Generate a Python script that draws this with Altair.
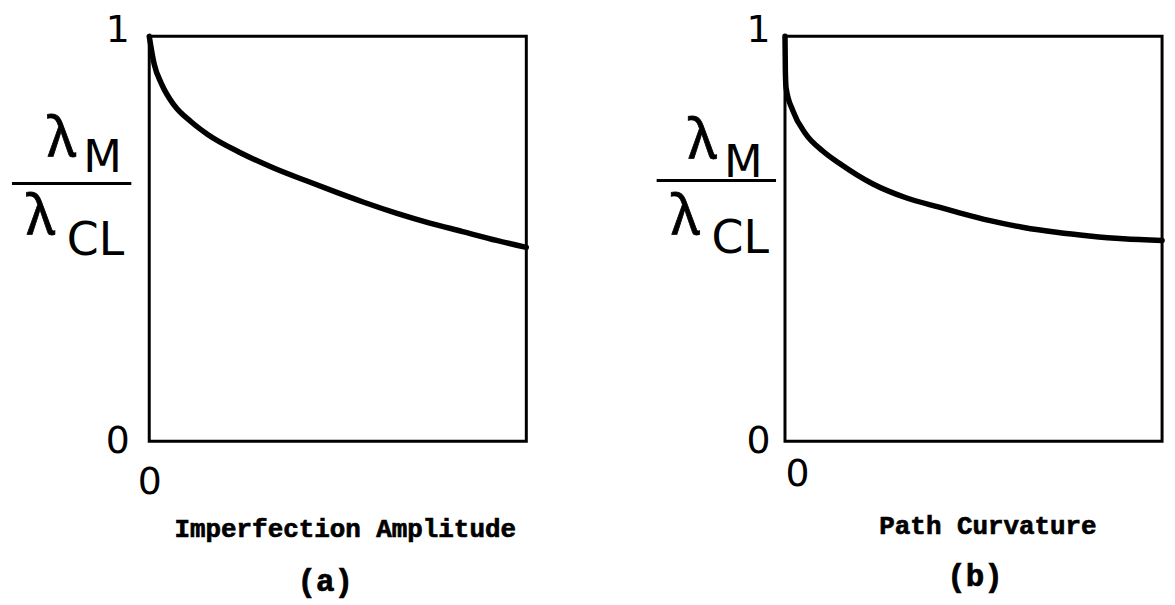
import altair as alt
import pandas as pd

# Buckling-load ratio lambda_M / lambda_CL against imperfection amplitude (panel a)
amp_x = [0.0, 0.013, 0.032, 0.066, 0.111, 0.156, 0.243, 0.330, 0.420, 0.499,
         0.567, 0.657, 0.744, 0.831, 0.921, 1.0]
amp_ratio = [1.0, 0.932, 0.884, 0.830, 0.789, 0.757, 0.712, 0.675, 0.642, 0.614,
             0.591, 0.563, 0.539, 0.518, 0.496, 0.479]

# Same ratio against path curvature (panel b)
curv_x = [0.0, 0.001, 0.003, 0.021, 0.055, 0.100, 0.145, 0.232, 0.319, 0.409,
          0.456, 0.544, 0.633, 0.720, 0.807, 0.897, 1.0]
curv_ratio = [1.0, 0.914, 0.872, 0.816, 0.759, 0.717, 0.686, 0.636, 0.602, 0.578,
              0.566, 0.545, 0.528, 0.516, 0.507, 0.500, 0.496]

y_ticks = [0, 1]
x_ticks = [0]
panel_titles = ["Imperfection Amplitude", "Path Curvature"]
panel_tags = ["(a)", "(b)"]
ratio_parts = ["λ", "M", "λ", "CL"]

W, H = 379, 407
SANS = "DejaVu Sans"
GREEK = "Noto Sans"
MONO = "Liberation Mono"


def one_text(txt, x, y, size, font=SANS, weight="normal", ink=0.0):
    props = dict(font=font, fontSize=size, fontWeight=weight, color="black",
                 align="center", baseline="middle")
    if ink > 0:
        props.update(stroke="black", strokeWidth=ink)
    return alt.Chart(pd.DataFrame({"t": [txt]})).mark_text(**props).encode(
        x=alt.value(x), y=alt.value(y), text="t:N")


def panel(xs, ys, title, tag, lay):
    df = pd.DataFrame({"x": xs, "ratio": ys})
    curve = alt.Chart(df).mark_line(
        color="black", strokeWidth=5.5, interpolate="monotone", strokeCap="round"
    ).encode(
        x=alt.X("x:Q", scale=alt.Scale(domain=[0, 1], nice=False, zero=False),
                axis=alt.Axis(values=x_ticks, format="d", title=None,
                              labelFontSize=38, labelPadding=lay["xpad"],
                              labelFlush=lay["xflush"])),
        y=alt.Y("ratio:Q", scale=alt.Scale(domain=[0, 1], nice=False),
                axis=alt.Axis(values=y_ticks, format="d", title=None,
                              labelFontSize=38, labelPadding=lay["ypad"],
                              labelOffset={"condition": {"test": "datum.value == 1",
                                                         "value": -6},
                                           "value": 0})),
    )
    fx = lay["frac"]
    bar = alt.Chart(pd.DataFrame({"k": [0]})).mark_rule(
        color="black", strokeWidth=3
    ).encode(x=alt.value(fx["bar"][0]), x2=alt.value(fx["bar"][1]),
             y=alt.value(fx["bar"][2]))
    layers = [
        curve,
        bar,
        one_text(ratio_parts[0], *fx["lm"], 55, GREEK, ink=0.8),
        one_text(ratio_parts[1], *fx["m"], 45),
        one_text(ratio_parts[2], *fx["lc"], 55, GREEK, ink=0.8),
        one_text(ratio_parts[3], *fx["cl"], 46),
        one_text(title, *lay["title"], 26, MONO, "bold", ink=0.7),
        one_text(tag, *lay["tag"], 31, MONO, "bold", ink=0.7),
    ]
    return alt.layer(*layers).properties(width=W, height=H)


lay_a = {
    "xpad": 22, "xflush": False, "ypad": 20,
    "frac": {"lm": (-88, 103), "m": (-47, 122), "bar": (-138, -18, 148),
             "lc": (-109, 182), "cl": (-54, 206)},
    "title": (197, 495), "tag": (177, 548),
}
lay_b = {
    "xpad": 14, "xflush": True, "ypad": 15,
    "frac": {"lm": (-83, 105), "m": (-42, 127), "bar": (-129, -9, 145),
             "lc": (-100, 182), "cl": (-45, 204)},
    "title": (204, 492), "tag": (191, 543),
}

pa = panel(amp_x, amp_ratio, panel_titles[0], panel_tags[0], lay_a)
pb = panel(curv_x, curv_ratio, panel_titles[1], panel_tags[1], lay_b)

chart = alt.hconcat(pa, pb, spacing=260, bounds="flush").properties(
    padding={"left": 9, "top": 8, "right": 0, "bottom": 0},
    background="white",
).configure_view(
    stroke="black", strokeWidth=3, fill="white"
).configure_axis(
    domain=False, ticks=False, grid=False,
    labelColor="black", labelFont=SANS,
)

chart.save("out.html", embed_options={"renderer": "svg", "actions": False})
